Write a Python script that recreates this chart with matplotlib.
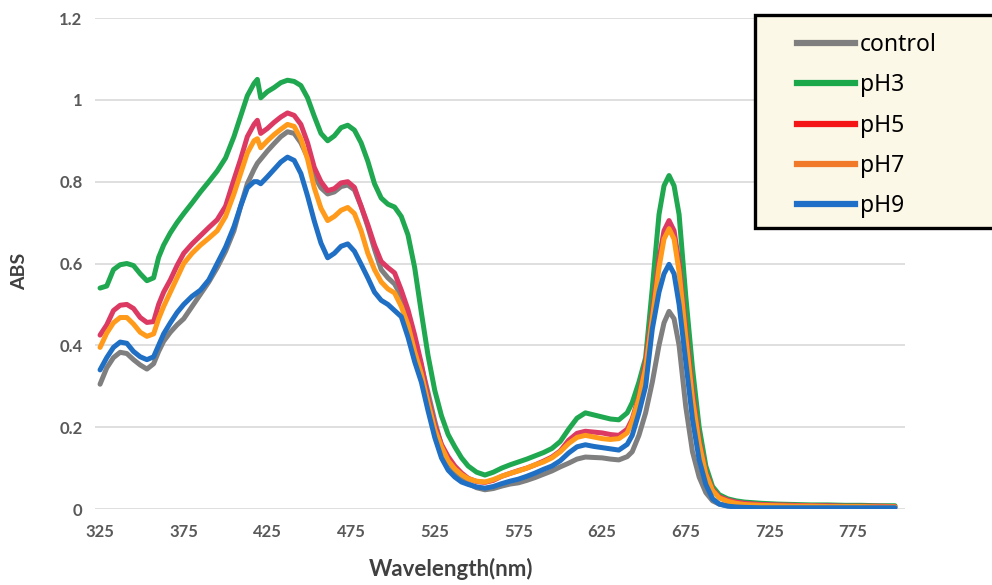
import numpy as np
import matplotlib.pyplot as plt
from matplotlib.lines import Line2D
from matplotlib.patches import Rectangle

# wavelength grid (nm)
wavelength = [
    325, 329, 333, 337, 341, 345, 349, 353, 357, 360,
    363, 367, 371, 375, 380, 385, 390, 395, 400, 405,
    409, 413, 417, 419, 421, 425, 429, 433, 437, 441,
    445, 449, 453, 457, 461, 465, 469, 473, 477, 481,
    485, 489, 493, 497, 501, 505, 509, 513, 517, 521,
    525, 529, 533, 537, 541, 545, 550, 555, 560, 565,
    570, 575, 580, 585, 590, 595, 600, 605, 610, 615,
    620, 625, 630, 635, 640, 643, 647, 651, 655, 659,
    662, 665, 668, 671, 675, 679, 683, 687, 691, 695,
    700, 705, 710, 720, 730, 740, 750, 760, 770, 780,
    790, 800,
]

control = [
    0.305, 0.345, 0.370, 0.383, 0.380, 0.365, 0.352, 0.342, 0.355, 0.385,
    0.410, 0.432, 0.450, 0.465, 0.495, 0.525, 0.555, 0.590, 0.630, 0.680,
    0.740, 0.795, 0.830, 0.845, 0.855, 0.875, 0.893, 0.910, 0.922, 0.918,
    0.895, 0.860, 0.815, 0.785, 0.770, 0.775, 0.788, 0.792, 0.780, 0.740,
    0.690, 0.635, 0.585, 0.565, 0.550, 0.520, 0.470, 0.413, 0.350, 0.284,
    0.215, 0.155, 0.118, 0.090, 0.073, 0.062, 0.052, 0.047, 0.050, 0.056,
    0.061, 0.064, 0.070, 0.077, 0.085, 0.093, 0.103, 0.112, 0.122, 0.127,
    0.126, 0.125, 0.122, 0.120, 0.128, 0.140, 0.180, 0.235, 0.310, 0.400,
    0.455, 0.483, 0.465, 0.400, 0.250, 0.140, 0.078, 0.040, 0.020, 0.012,
    0.008, 0.006, 0.005, 0.004, 0.004, 0.004, 0.004, 0.004, 0.004, 0.004,
    0.004, 0.004,
]

ph3 = [
    0.540, 0.545, 0.585, 0.597, 0.600, 0.595, 0.575, 0.558, 0.565, 0.615,
    0.645, 0.675, 0.700, 0.722, 0.748, 0.775, 0.800, 0.826, 0.858, 0.910,
    0.960, 1.010, 1.040, 1.050, 1.005, 1.020, 1.030, 1.042, 1.048, 1.045,
    1.035, 1.005, 0.960, 0.918, 0.900, 0.912, 0.932, 0.938, 0.926, 0.895,
    0.850, 0.795, 0.760, 0.745, 0.738, 0.715, 0.670, 0.590, 0.480, 0.375,
    0.290, 0.228, 0.182, 0.152, 0.125, 0.105, 0.090, 0.083, 0.090, 0.100,
    0.108, 0.115, 0.122, 0.130, 0.138, 0.148, 0.165, 0.195, 0.222, 0.235,
    0.230, 0.225, 0.220, 0.218, 0.235, 0.260, 0.310, 0.370, 0.540, 0.720,
    0.790, 0.815, 0.790, 0.720, 0.520, 0.345, 0.200, 0.105, 0.055, 0.035,
    0.025, 0.020, 0.017, 0.014, 0.012, 0.011, 0.010, 0.010, 0.009, 0.009,
    0.008, 0.008,
]

ph5 = [
    0.425, 0.450, 0.485, 0.498, 0.500, 0.490, 0.468, 0.456, 0.458, 0.500,
    0.530, 0.560, 0.595, 0.625, 0.648, 0.668, 0.688, 0.707, 0.740, 0.805,
    0.855, 0.910, 0.940, 0.950, 0.918, 0.930, 0.945, 0.958, 0.968, 0.962,
    0.940, 0.895, 0.835, 0.800, 0.778, 0.783, 0.797, 0.800, 0.786, 0.740,
    0.695, 0.645, 0.605, 0.590, 0.577, 0.535, 0.487, 0.425, 0.355, 0.270,
    0.205, 0.158, 0.128, 0.105, 0.088, 0.075, 0.067, 0.065, 0.070, 0.080,
    0.087, 0.094, 0.100, 0.108, 0.117, 0.127, 0.142, 0.168, 0.185, 0.190,
    0.188, 0.186, 0.182, 0.180, 0.195, 0.220, 0.275, 0.360, 0.480, 0.610,
    0.680, 0.705, 0.680, 0.600, 0.440, 0.290, 0.170, 0.090, 0.048, 0.030,
    0.022, 0.017, 0.014, 0.011, 0.010, 0.009, 0.008, 0.008, 0.007, 0.007,
    0.007, 0.006,
]

ph7 = [
    0.395, 0.430, 0.455, 0.468, 0.468, 0.452, 0.432, 0.422, 0.428, 0.465,
    0.495, 0.530, 0.565, 0.600, 0.625, 0.645, 0.662, 0.680, 0.715, 0.770,
    0.820, 0.870, 0.900, 0.905, 0.883, 0.900, 0.915, 0.928, 0.940, 0.935,
    0.905, 0.855, 0.785, 0.735, 0.705, 0.715, 0.730, 0.737, 0.722, 0.680,
    0.625, 0.585, 0.555, 0.538, 0.528, 0.495, 0.450, 0.385, 0.330, 0.260,
    0.195, 0.152, 0.118, 0.098, 0.084, 0.074, 0.068, 0.066, 0.072, 0.080,
    0.087, 0.093, 0.100, 0.108, 0.115, 0.125, 0.140, 0.160, 0.175, 0.180,
    0.176, 0.172, 0.170, 0.172, 0.186, 0.215, 0.270, 0.345, 0.465, 0.590,
    0.660, 0.685, 0.660, 0.580, 0.420, 0.270, 0.160, 0.085, 0.045, 0.027,
    0.019, 0.014, 0.011, 0.009, 0.008, 0.007, 0.007, 0.006, 0.006, 0.006,
    0.005, 0.005,
]

ph9 = [
    0.340, 0.370, 0.395, 0.408, 0.405, 0.385, 0.372, 0.365, 0.372, 0.400,
    0.428, 0.455, 0.480, 0.500, 0.520, 0.535, 0.560, 0.600, 0.640, 0.690,
    0.740, 0.785, 0.800, 0.800, 0.795, 0.812, 0.830, 0.848, 0.860, 0.852,
    0.820, 0.765, 0.704, 0.650, 0.614, 0.625, 0.642, 0.648, 0.630, 0.598,
    0.565, 0.530, 0.510, 0.500, 0.485, 0.470, 0.420, 0.360, 0.310, 0.240,
    0.175, 0.125, 0.095, 0.078, 0.066, 0.060, 0.054, 0.051, 0.055, 0.062,
    0.068, 0.073, 0.080, 0.088, 0.097, 0.105, 0.118, 0.137, 0.152, 0.157,
    0.153, 0.150, 0.147, 0.144, 0.158, 0.180, 0.235, 0.300, 0.440, 0.530,
    0.575, 0.598, 0.575, 0.500, 0.360, 0.220, 0.120, 0.060, 0.025, 0.012,
    0.007, 0.005, 0.004, 0.003, 0.003, 0.003, 0.003, 0.003, 0.003, 0.003,
    0.003, 0.003,
]

labels = ['control', 'pH3', 'pH5', 'pH7', 'pH9']
line_colors = ['#7f7f7f', '#1fa84f', '#dc3a62', '#ff9a1a', '#1f6fc4']
key_colors = ['#7f7f7f', '#1aa84a', '#f41616', '#f07a2a', '#1f6fc8']

axis_font = ['Lato', 'DejaVu Sans']

fig = plt.figure(figsize=(9.92, 5.85), dpi=100)
ax = fig.add_axes([0.0958, 0.1299, 0.8165, 0.8393])

for series, col in zip([control, ph3, ph5, ph7, ph9], line_colors):
    ax.plot(wavelength, series, color=col, lw=3.6, solid_capstyle='round',
            solid_joinstyle='round')

ax.set_xlim(322, 806)
ax.set_ylim(0, 1.2)
ax.set_xticks(np.arange(325, 800, 50))
ax.set_yticks(np.arange(0, 1.21, 0.2))
ax.set_yticklabels([f'{v:g}' for v in np.arange(0, 1.21, 0.2).round(1)])

ax.grid(axis='y', color='#d9d9d9', lw=1.2)
ax.set_axisbelow(True)
for s in ax.spines.values():
    s.set_visible(False)
ax.tick_params(length=0, labelcolor='#595959', labelsize=12)
ax.tick_params(axis='x', pad=11)
ax.tick_params(axis='y', pad=9)
for t in ax.get_xticklabels() + ax.get_yticklabels():
    t.set_family(axis_font)
    t.set_fontweight('bold')

ax.set_xlabel('Wavelength(nm)', family=axis_font, fontweight='bold',
              fontsize=16, color='#404040')
ax.xaxis.set_label_coords(0.44, -0.1)
ax.set_ylabel('ABS', family=axis_font, fontweight='bold', fontsize=14,
              color='#404040')
ax.yaxis.set_label_coords(-0.083, 0.483)

# legend box
box = Rectangle((755 / 992, 1 - 228 / 585), 0.3, 213 / 585,
                transform=fig.transFigure, facecolor='#fcf8e8',
                edgecolor='black', lw=2.4, zorder=4)
fig.patches.append(box)

handles = [Line2D([0], [0], color=c, lw=4.5) for c in key_colors]
leg = fig.legend(handles, labels, loc='upper left',
                 bbox_to_anchor=(797 / 992, 1 - 33 / 585),
                 bbox_transform=fig.transFigure, frameon=False,
                 prop={'family': 'Noto Sans', 'size': 16.5},
                 handlelength=2.55, handletextpad=0.2, labelspacing=0.71,
                 borderpad=0, borderaxespad=0)
leg.set_zorder(6)

fig.savefig('out.png', dpi=100)
